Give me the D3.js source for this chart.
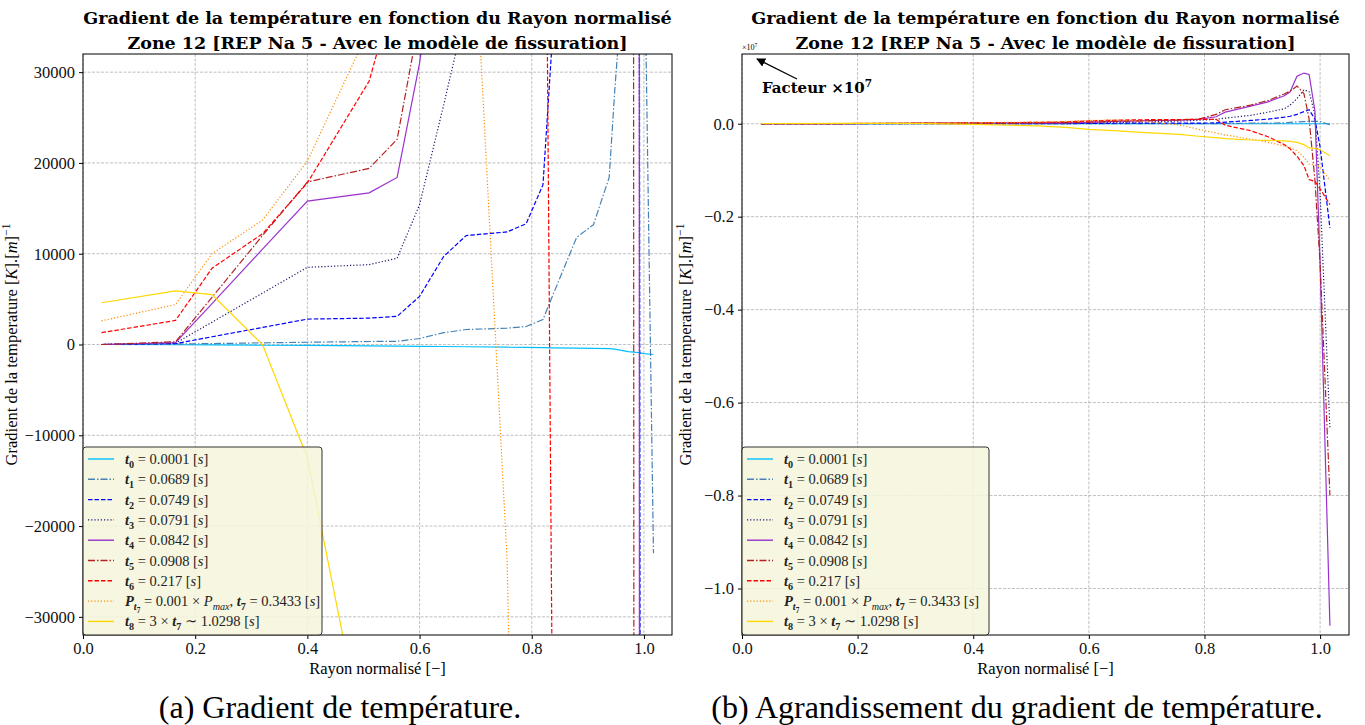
<!DOCTYPE html>
<html>
<head>
<meta charset="utf-8">
<script src="https://cdn.jsdelivr.net/npm/d3@7"></script>
<style>
  body { margin: 0; background: #fff; }
  svg { display: block; }
</style>
</head>
<body>
<div id="chart"></div>
<script>

// normalised radius of the mesh points
var radius = [0.033, 0.165, 0.23, 0.32, 0.40, 0.51, 0.56, 0.60, 0.643, 0.683, 0.756, 0.79,
              0.82, 0.836, 0.88, 0.91, 0.938, 0.948, 0.96, 0.972, 0.981, 0.991, 1.0, 1.017]

// temperature gradient [K/m] for each instant
var g_t0 = [0, -30, -50, -80, -100, -150, -180, -200, -220, -250, -300, -320,
            -350, -370, -400, -430, -450, -500, -650, -780, -840, -900, -1000, -1100]
var g_t1 = [0, 50, 100, 180, 250, 330, 350, 660, 1300, 1650, 1800, 1980,
            2750, 5200, 11800, 13200, 18400, 28000, 38000, 45000, 50000, 52000, 48000, -23000]
var g_t2 = [0, 100, 850, 1880, 2800, 2900, 3100, 5300, 9700, 12000, 12400, 13300,
            17600, 33000, 70000, 100000, 140000, 160000, 200000, 260000, 300000, 100000, -500000, -2240000]
var g_t3 = [0, 150, 2460, 5660, 8500, 8800, 9500, 15400, 26400, 37000, 55000, 75000,
            95000, 120000, 180000, 250000, 320000, 400000, 540000, 730000, 690000, 200000, -1500000, -6550000]
var g_t4 = [0, 200, 4500, 10500, 15800, 16700, 18400, 31000, 50000, 60000, 75000, 95000,
            150000, 250000, 380000, 470000, 600000, 680000, 1020000, 1090000, 1060000, 280000, -3000000, -10800000]
var g_t5 = [0, 300, 5200, 12000, 17900, 19400, 22600, 36000, 50000, 60000, 80000, 100000,
            200000, 300000, 400000, 500000, 640000, 700000, 810000, 650000, 100000, -1200000, -3000000, -8000000]
var g_t6 = [1300, 2650, 8400, 12200, 17800, 29000, 40000, 60000, 75000, 85000, 90000, 95000,
            96000, -34000, -150000, -280000, -450000, -540000, -700000, -900000, -1200000, -1240000, -1400000, -1740000]
var g_t7 = [2600, 4400, 10000, 13700, 20200, 34700, 50000, 70000, 80000, 62800, -23700, -120000,
            -200000, -240000, -330000, -400000, -480000, -520000, -580000, -720000, -870000, -890000, -920000, -1230000]
var g_t8 = [4600, 5900, 5500, 0, -12500, -46600, -80000, -120000, -150000, -180000, -230000, -270000,
            -300000, -320000, -350000, -360000, -370000, -380000, -400000, -450000, -520000, -530000, -560000, -690000]

var xTicks = [0.0, 0.2, 0.4, 0.6, 0.8, 1.0]
var yTicksA = [-30000, -20000, -10000, 0, 10000, 20000, 30000]
var yTicksB = [-1.0, -0.8, -0.6, -0.4, -0.2, 0.0]

// legend entries: [text, bold, italic, level]  level 1 = subscript, 2 = sub-sub, -1 = superscript
var legendLabels = [
  [["t",1,1,0],["0",1,0,1],[" = 0.0001 [",0,0,0],["s",0,1,0],["]",0,0,0]],
  [["t",1,1,0],["1",1,0,1],[" = 0.0689 [",0,0,0],["s",0,1,0],["]",0,0,0]],
  [["t",1,1,0],["2",1,0,1],[" = 0.0749 [",0,0,0],["s",0,1,0],["]",0,0,0]],
  [["t",1,1,0],["3",1,0,1],[" = 0.0791 [",0,0,0],["s",0,1,0],["]",0,0,0]],
  [["t",1,1,0],["4",1,0,1],[" = 0.0842 [",0,0,0],["s",0,1,0],["]",0,0,0]],
  [["t",1,1,0],["5",1,0,1],[" = 0.0908 [",0,0,0],["s",0,1,0],["]",0,0,0]],
  [["t",1,1,0],["6",1,0,1],[" = 0.217 [",0,0,0],["s",0,1,0],["]",0,0,0]],
  [["P",1,1,0],["t",1,1,1],["7",1,0,2],[" = 0.001 \u00d7 ",0,0,0],["P",0,1,0],["max",0,1,1],[", ",0,0,0],
   ["t",1,1,0],["7",1,0,1],[" = 0.3433 [",0,0,0],["s",0,1,0],["]",0,0,0]],
  [["t",1,1,0],["8",1,0,1],[" = 3 \u00d7 ",0,0,0],["t",1,1,0],["7",1,0,1],[" \u223c 1.0298 [",0,0,0],["s",0,1,0],["]",0,0,0]]
]

var titleLines = ["Gradient de la température en fonction du Rayon normalisé",
                  "Zone 12 [REP Na 5 - Avec le modèle de fissuration]"]
var captions = ["(a) Gradient de température.", "(b) Agrandissement du gradient de température."]

// line styles, one per instant
var colors = ["#00bfff", "#4682b4", "#0000ff", "#191970", "#9932cc", "#b22222", "#ff0000", "#ff8c00", "#ffd700"]
var dashes = ["none", "7,2,1.5,2", "4.5,2", "1.2,2", "none", "7,2,1.5,2", "4.5,2", "1.2,2", "none"]

var allSeries = [g_t0, g_t1, g_t2, g_t3, g_t4, g_t5, g_t6, g_t7, g_t8]

var serif = "'Liberation Serif', 'DejaVu Serif', serif"
var boldSerif = "'DejaVu Serif', serif"

var svg = d3.select("#chart").append("svg")
    .attr("width", 1365)
    .attr("height", 725)
    .style("font-family", serif)

svg.append("defs").append("marker")
    .attr("id", "arrow")
    .attr("viewBox", "0 0 10 10")
    .attr("refX", 9).attr("refY", 5)
    .attr("markerWidth", 9).attr("markerHeight", 9)
    .attr("markerUnits", "userSpaceOnUse")
    .attr("orient", "auto")
  .append("path")
    .attr("d", "M0,0 L10,5 L0,10 z")
    .attr("fill", "#000")

// write a text made of styled pieces (bold, italic, sub / superscripts)
function richText(sel, segs, size) {
  var off = 0
  segs.forEach(function(s) {
    var lvl = s[3]
    var shift = lvl == 1 ? size * 0.28 : lvl == 2 ? size * 0.45 : lvl == -1 ? -size * 0.4 : 0
    var fs = lvl == 0 ? size : lvl == 2 ? size * 0.5 : size * 0.7
    sel.append("tspan")
      .attr("dy", shift - off)
      .style("font-size", fs + "px")
      .style("font-weight", s[1] ? "bold" : "normal")
      .style("font-style", s[2] ? "italic" : "normal")
      .text(s[0])
    off = shift
  })
}

function drawPanel(p) {
  var x = d3.scaleLinear().domain([0, 1.05]).range([p.x0, p.x1])
  var y = d3.scaleLinear().domain(p.ydomain).range([p.y1, p.y0])

  var g = svg.append("g")

  // grid
  g.selectAll(".vgrid").data(xTicks).enter().append("line")
      .attr("x1", function(d) { return x(d) }).attr("x2", function(d) { return x(d) })
      .attr("y1", p.y0).attr("y2", p.y1)
      .attr("stroke", "#b0b0b0").attr("stroke-width", 0.8).attr("stroke-dasharray", "3,1.5")
  g.selectAll(".hgrid").data(p.yticks).enter().append("line")
      .attr("x1", p.x0).attr("x2", p.x1)
      .attr("y1", function(d) { return y(d) }).attr("y2", function(d) { return y(d) })
      .attr("stroke", "#b0b0b0").attr("stroke-width", 0.8).attr("stroke-dasharray", "3,1.5")

  // curves
  g.append("clipPath").attr("id", "clip" + p.id)
    .append("rect").attr("x", p.x0).attr("y", p.y0).attr("width", p.x1 - p.x0).attr("height", p.y1 - p.y0)

  var line = d3.line()
      .x(function(d) { return x(d[0]) })
      .y(function(d) { return y(d[1] * p.factor) })

  g.append("g").attr("clip-path", "url(#clip" + p.id + ")")
    .selectAll("path").data(allSeries).enter().append("path")
      .attr("d", function(vals) { return line(vals.map(function(v, i) { return [radius[i], v] })) })
      .attr("fill", "none")
      .attr("stroke", function(d, i) { return colors[i] })
      .attr("stroke-width", 1.2)
      .attr("stroke-dasharray", function(d, i) { return dashes[i] })

  // axes
  g.append("g").attr("transform", "translate(0," + p.y1 + ")")
    .call(d3.axisBottom(x).tickValues(xTicks).tickFormat(d3.format(".1f")).tickSizeOuter(0).tickSize(4).tickPadding(3))
    .call(function(a) { a.select(".domain").remove() })
    .selectAll("text").style("font-family", serif).style("font-size", "16.5px").attr("fill", "#111")
  g.append("g").attr("transform", "translate(" + p.x0 + ",0)")
    .call(d3.axisLeft(y).tickValues(p.yticks).tickFormat(p.fmt).tickSizeOuter(0).tickSize(4).tickPadding(4))
    .call(function(a) { a.select(".domain").remove() })
    .selectAll("text").style("font-family", serif).style("font-size", "16.5px").attr("fill", "#111")

  g.append("rect")
      .attr("x", p.x0).attr("y", p.y0).attr("width", p.x1 - p.x0).attr("height", p.y1 - p.y0)
      .attr("fill", "none").attr("stroke", "#000").attr("stroke-width", 1)

  // titles
  titleLines.forEach(function(t, i) {
    g.append("text")
      .attr("x", (p.x0 + p.x1) / 2).attr("y", 24 + i * 25)
      .attr("text-anchor", "middle")
      .style("font-family", boldSerif).style("font-weight", "bold").style("font-size", "17.5px")
      .text(t)
  })

  // axis labels
  g.append("text")
      .attr("x", (p.x0 + p.x1) / 2).attr("y", 674)
      .attr("text-anchor", "middle").style("font-size", "16.5px")
      .text("Rayon normalisé [\u2212]")
  var yl = g.append("text")
      .attr("transform", "translate(" + (p.x0 - p.ylabOff) + "," + ((p.y0 + p.y1) / 2) + ") rotate(-90)")
      .attr("text-anchor", "middle").style("font-size", "16.5px")
  richText(yl, [["Gradient de la temperature [",0,0,0],["K",0,1,0],["].[",0,0,0],["m",0,1,0],["]",0,0,0],["\u22121",0,0,-1]], 16.5)

  // caption
  g.append("text")
      .attr("x", p.capX).attr("y", 718)
      .attr("text-anchor", "middle").style("font-size", "32px")
      .text(p.caption)

  // legend
  var lg = g.append("g").attr("transform", "translate(" + p.x0 + ",447)")
  lg.append("rect")
      .attr("width", p.legW).attr("height", p.y1 - 447)
      .attr("rx", 3)
      .attr("fill", "#f5f5dc").attr("fill-opacity", 0.85)
      .attr("stroke", "#333").attr("stroke-width", 1)
  legendLabels.forEach(function(lab, i) {
    var ry = 12 + i * 20.3
    lg.append("line")
        .attr("x1", 5).attr("x2", 31).attr("y1", ry).attr("y2", ry)
        .attr("stroke", colors[i]).attr("stroke-width", 1.4)
        .attr("stroke-dasharray", dashes[i])
    var t = lg.append("text").attr("x", 42).attr("y", ry + 5).style("font-size", "14.5px").attr("fill", "#222")
    richText(t, lab, 14.5)
  })
}

drawPanel({
  id: "a", x0: 83, x1: 672, y0: 54, y1: 635,
  ydomain: [-32000, 32000], yticks: yTicksA, factor: 1,
  fmt: d3.format("d"), caption: captions[0], capX: 340, legW: 239, ylabOff: 66
})

drawPanel({
  id: "b", x0: 742, x1: 1349, y0: 54, y1: 635,
  ydomain: [-1.1, 0.15], yticks: yTicksB, factor: 1e-7,
  fmt: d3.format(".1f"), caption: captions[1], capX: 1017, legW: 247, ylabOff: 51
})

// scale factor of the zoomed panel
var off = svg.append("text").attr("x", 742).attr("y", 50).style("font-size", "8px")
richText(off, [["\u00d710",0,0,0],["7",0,0,-1]], 8)

var ann = svg.append("text").attr("x", 762).attr("y", 93)
    .style("font-family", boldSerif).style("font-weight", "bold")
richText(ann, [["Facteur \u00d710",1,0,0],["7",1,0,-1]], 15)

svg.append("line")
    .attr("x1", 797).attr("y1", 79).attr("x2", 757).attr("y2", 59)
    .attr("stroke", "#000").attr("stroke-width", 1.2)
    .attr("marker-end", "url(#arrow)")

</script>
</body>
</html>
